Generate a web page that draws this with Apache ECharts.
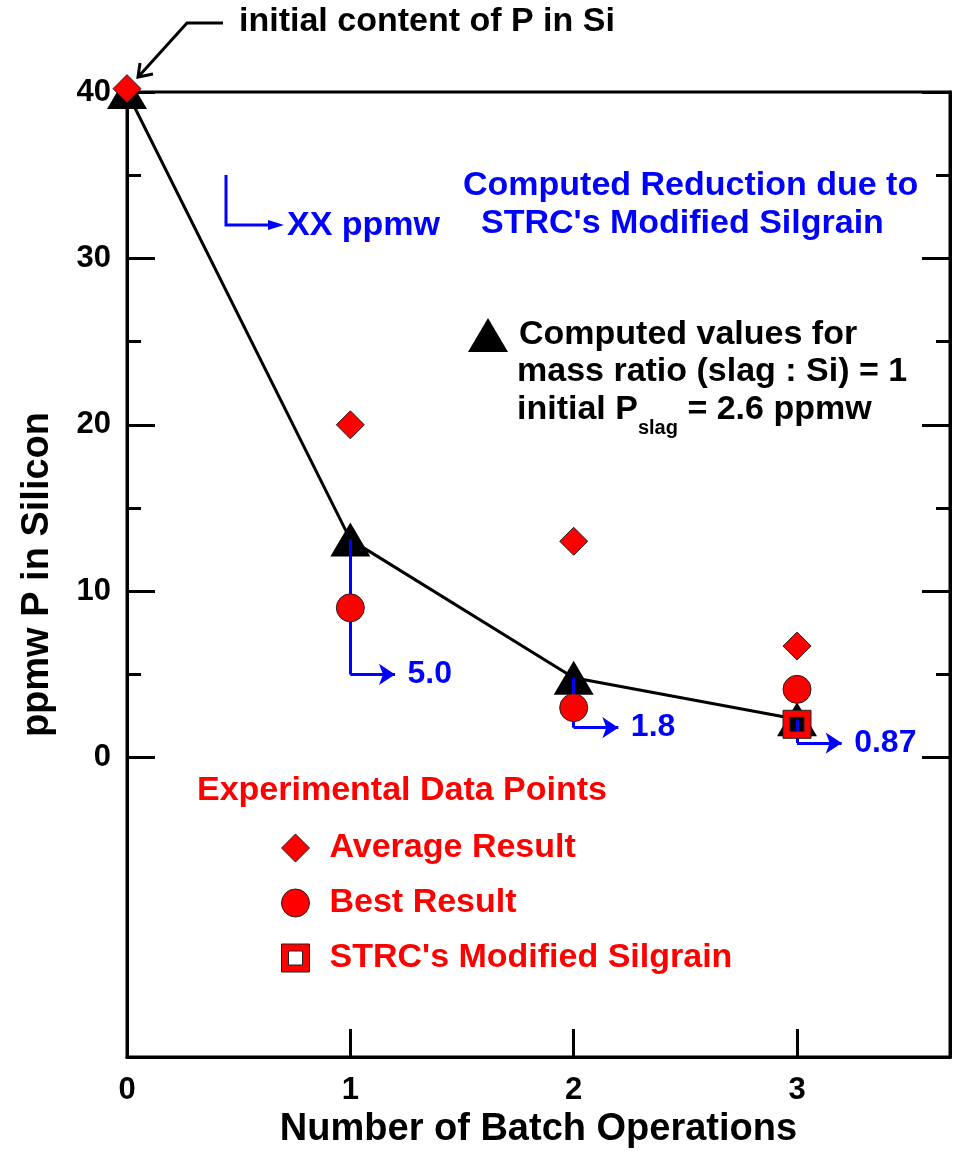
<!DOCTYPE html>
<html>
<head>
<meta charset="utf-8">
<script src="https://cdn.jsdelivr.net/npm/echarts@6/dist/echarts.min.js"></script>
<style>
  html, body { margin: 0; padding: 0; background: #fff; }
  #main { width: 959px; height: 1154px; }
</style>
</head>
<body>
<div id="main"></div>
<script>
// data
var batches = [0, 1, 2, 3];
var computedP = [40, 13.1, 4.8, 2.3];
var averageP = [40.2, 20, 13, 6.7];
var bestBatches = [1, 2, 3];
var bestP = [9, 3, 4.1];
var strcBatches = [3];
var strcP = [2.0];
var reductionBatches = [1, 2, 3];
var reductionP = [5.0, 1.8, 0.87];
var reductionLabels = ['5.0', '1.8', '0.87'];
var xTicks = [0, 1, 2, 3];
var yMajorTicks = [0, 10, 20, 30, 40];
var yMinorTicks = [5, 15, 25, 35];

var FONT = '"Liberation Sans", Arial, sans-serif';
var RED = '#ff0000';
var BLUE = '#0000ff';
var arrowReach = 0.2;   // how far the blue arrows run to the right

var myChart = echarts.init(document.getElementById('main'));

function zip(xs, ys) {
  return xs.map(function (x, i) { return [x, ys[i]]; });
}

// vertical drop from the computed value, then a horizontal arrow
var dropData = reductionBatches.map(function (b, i) {
  var from = computedP[batches.indexOf(b)];
  return { coords: [[b, from], [b, reductionP[i]]] };
});
var arrowData = reductionBatches.map(function (b, i) {
  return { coords: [[b, reductionP[i]], [b + arrowReach, reductionP[i]]] };
});
var labelData = reductionBatches.map(function (b, i) {
  return { name: reductionLabels[i], value: [b + arrowReach, reductionP[i]] };
});

var squareIcon = 'path://M0,0H28V28H0Z M7,7V21H21V7H7Z';

function yAxis(pos, ticks, len, withLabels) {
  return {
    type: 'value', position: pos, min: -18, max: 40,
    axisLine: { show: true, onZero: false, lineStyle: { color: '#000', width: 3 } },
    axisTick: { show: true, inside: true, length: len, customValues: ticks,
      lineStyle: { color: '#000', width: 3 } },
    axisLabel: withLabels ? { show: true, customValues: yMajorTicks, margin: 16,
      color: '#000', fontFamily: FONT, fontWeight: 'bold', fontSize: 31 } : { show: false },
    splitLine: { show: false }
  };
}

var yLeft = yAxis('left', yMajorTicks, 28, true);
yLeft.name = 'ppmw P in Silicon';
yLeft.nameLocation = 'middle';
yLeft.nameGap = 70;
yLeft.nameTextStyle = { color: '#000', fontFamily: FONT, fontWeight: 'bold', fontSize: 38 };

var option = {
  animation: false,
  backgroundColor: '#fff',
  grid: { left: 127, right: 9, top: 92, bottom: 96, show: true,
    borderColor: '#000', borderWidth: 3 },
  xAxis: {
    type: 'value', min: 0, max: 3.685,
    name: 'Number of Batch Operations', nameLocation: 'middle', nameGap: 52,
    nameTextStyle: { color: '#000', fontFamily: FONT, fontWeight: 'bold', fontSize: 38 },
    axisLine: { show: true, onZero: false, lineStyle: { color: '#000', width: 3 } },
    axisTick: { show: true, inside: true, length: 28, customValues: xTicks,
      lineStyle: { color: '#000', width: 3 } },
    axisLabel: { customValues: xTicks, margin: 18, color: '#000',
      fontFamily: FONT, fontWeight: 'bold', fontSize: 31 },
    splitLine: { show: false }
  },
  yAxis: [
    yLeft,
    yAxis('left', yMinorTicks, 14, false),
    yAxis('right', yMajorTicks, 28, false),
    yAxis('right', yMinorTicks, 14, false)
  ],
  legend: [
    {
      orient: 'vertical', left: 276, top: 826, itemWidth: 28, itemHeight: 28, itemGap: 21,
      selectedMode: false,
      itemStyle: { borderWidth: 1 },
      textStyle: { color: RED, fontFamily: FONT, fontWeight: 'bold', fontSize: 34,
        padding: [0, 0, 0, 15] },
      data: [
        { name: 'Average Result', icon: 'diamond' },
        { name: 'Best Result', icon: 'circle' },
        { name: "STRC's Modified Silgrain", icon: squareIcon }
      ]
    },
    {
      left: 463, top: 313, itemWidth: 40, itemHeight: 34, selectedMode: false,
      textStyle: { color: '#000', fontFamily: FONT, fontWeight: 'bold', fontSize: 34,
        padding: [0, 0, 0, 6] },
      data: [{ name: 'Computed values for', icon: 'triangle' }]
    }
  ],
  graphic: [
    { type: 'text', x: 239, y: 22, style: { text: 'initial content of P in Si',
      font: 'bold 34px ' + FONT, fill: '#000', textVerticalAlign: 'middle' } },
    { type: 'polyline', shape: { points: [[223, 23], [187, 23], [139, 76]] },
      style: { stroke: '#000', lineWidth: 3, fill: null } },
    { type: 'polyline', shape: { points: [[140, 63], [138, 77], [153, 74]] },
      style: { stroke: '#000', lineWidth: 3, fill: null } },
    { type: 'text', x: 463, y: 186, style: { text: 'Computed Reduction due to',
      font: 'bold 34px ' + FONT, fill: BLUE, textVerticalAlign: 'middle' } },
    { type: 'text', x: 481, y: 224, style: { text: "STRC's Modified Silgrain",
      font: 'bold 34px ' + FONT, fill: BLUE, textVerticalAlign: 'middle' } },
    { type: 'polyline', shape: { points: [[226, 175], [226, 225], [272, 225]] },
      style: { stroke: BLUE, lineWidth: 3, fill: null } },
    { type: 'polygon', shape: { points: [[268, 220], [284, 225], [268, 230]] },
      style: { fill: BLUE } },
    { type: 'text', x: 287, y: 226, style: { text: 'XX ppmw',
      font: 'bold 34px ' + FONT, fill: BLUE, textVerticalAlign: 'middle' } },
    { type: 'text', x: 517, y: 372, style: { text: 'mass ratio (slag : Si) = 1',
      font: 'bold 34px ' + FONT, fill: '#000', textVerticalAlign: 'middle' } },
    { type: 'text', x: 517, y: 410, style: {
      text: '{a|initial P}{s|slag}{a| = 2.6 ppmw}',
      textVerticalAlign: 'middle',
      rich: {
        a: { font: 'bold 34px ' + FONT, fill: '#000' },
        s: { font: 'bold 20px ' + FONT, fill: '#000', verticalAlign: 'bottom', padding: [36, 0, 0, 0] }
      } } },
    { type: 'text', x: 197, y: 791, style: { text: 'Experimental Data Points',
      font: 'bold 34px ' + FONT, fill: RED, textVerticalAlign: 'middle' } }
  ],
  series: [
    {
      name: 'Computed values for', type: 'line', z: 2,
      data: zip(batches, computedP),
      symbol: 'triangle', symbolSize: [40, 34],
      itemStyle: { color: '#000' },
      lineStyle: { color: '#000', width: 3 }
    },
    {
      name: 'reduction drop', type: 'lines', coordinateSystem: 'cartesian2d', z: 3,
      silent: true, data: dropData, symbol: 'none',
      lineStyle: { color: BLUE, width: 3, opacity: 1 }
    },
    {
      name: 'reduction arrow', type: 'lines', coordinateSystem: 'cartesian2d', z: 3,
      silent: true, data: arrowData,
      symbol: ['none', 'arrow'], symbolSize: 16,
      lineStyle: { color: BLUE, width: 3, opacity: 1 }
    },
    {
      name: 'reduction labels', type: 'scatter', z: 3, silent: true,
      data: labelData, symbolSize: 1, itemStyle: { color: 'transparent', opacity: 1 },
      label: { show: true, position: 'right', distance: 12, formatter: '{b}',
        color: BLUE, opacity: 1, fontFamily: FONT, fontWeight: 'bold', fontSize: 32 }
    },
    {
      name: 'Average Result', type: 'scatter', z: 4, clip: false,
      data: zip(batches, averageP), symbol: 'diamond', symbolSize: 28,
      itemStyle: { color: RED, borderColor: '#222', borderWidth: 1, opacity: 1 }
    },
    {
      name: 'Best Result', type: 'scatter', z: 4,
      data: zip(bestBatches, bestP), symbol: 'circle', symbolSize: 28,
      itemStyle: { color: RED, borderColor: '#222', borderWidth: 1, opacity: 1 }
    },
    {
      name: "STRC's Modified Silgrain", type: 'scatter', z: 4,
      data: zip(strcBatches, strcP), symbol: squareIcon, symbolSize: 28,
      itemStyle: { color: RED, borderColor: '#222', borderWidth: 1, opacity: 1 }
    }
  ]
};

myChart.setOption(option);
</script>
</body>
</html>
